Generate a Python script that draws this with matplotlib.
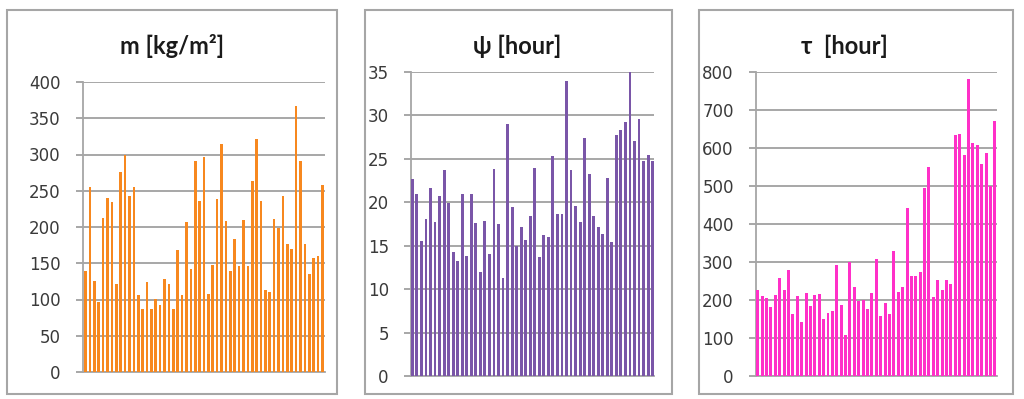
import numpy as np
import matplotlib.pyplot as plt
from matplotlib.patches import Rectangle

# values
m_vals = [140, 255, 125, 96, 213, 240, 234, 121, 276, 299,
          243, 255, 106, 87, 124, 87, 101, 92, 128, 122,
          87, 168, 106, 207, 142, 291, 236, 296, 107, 148,
          238, 315, 208, 140, 184, 146, 210, 146, 264, 322,
          236, 113, 111, 211, 199, 243, 176, 170, 367, 291,
          176, 135, 157, 160, 258]
psi_vals = [22.7, 20.9, 15.5, 18.1, 21.7, 17.7, 20.7, 23.7, 19.9, 14.3,
            13.2, 21.0, 13.8, 20.9, 17.6, 12.0, 17.9, 14.0, 23.8, 17.5,
            11.3, 29.0, 19.5, 15.0, 17.1, 15.7, 18.4, 23.9, 13.7, 16.2,
            16.0, 25.3, 18.6, 18.7, 34.0, 23.7, 19.6, 17.7, 27.4, 23.2,
            18.4, 17.2, 16.4, 22.8, 15.4, 27.7, 28.3, 29.3, 35.0, 27.1,
            29.6, 24.8, 25.4, 24.8]
tau_vals = [227, 210, 205, 182, 213, 259, 227, 279, 164, 210,
            141, 219, 184, 213, 216, 150, 167, 170, 291, 187,
            107, 301, 233, 198, 201, 176, 219, 307, 158, 192,
            164, 330, 221, 233, 443, 264, 262, 273, 495, 550,
            207, 253, 227, 253, 241, 635, 638, 581, 782, 613,
            607, 558, 586, 499, 672]

titles = ['m [kg/m\u00b2]', '\u03c8 [hour]', '\u03c4  [hour]']
m_ticks = list(range(0, 401, 50))
psi_ticks = list(range(0, 36, 5))
tau_ticks = list(range(0, 801, 100))

W, H = 1024, 399
fig = plt.figure(figsize=(W / 100, H / 100), dpi=100)

grey = '#a6a6a6'
text_col = '#3a3a3a'

# pixel boxes: (frame x0, frame x1, axes x0, axes x1, axes top, axes bottom, title x)
panels = [
    (m_vals, m_ticks, '#f7881f', titles[0], (7, 337, 83, 325, 82, 372, 172), (-0.6, 54.6), 0.6),
    (psi_vals, psi_ticks, '#7a56a8', titles[1], (365, 672, 411, 654, 72, 376, 517), (-0.3, 53.3), 0.62),
    (tau_vals, tau_ticks, '#ff30c8', titles[2], (699, 1013, 756, 997, 72, 376, 844), (-0.4, 54.5), 0.68),
]

for vals, ticks, col, title, box, xl, bw in panels:
    fx0, fx1, ax0, ax1, top, bot, tx = box

    # chart frame
    fig.add_artist(Rectangle((fx0 / W, 1 - 394 / H), (fx1 - fx0) / W, 384 / H,
                             transform=fig.transFigure, fill=False,
                             edgecolor=grey, linewidth=1.5))

    ax = fig.add_axes([ax0 / W, 1 - bot / H, (ax1 - ax0) / W, (bot - top) / H])
    x = np.arange(len(vals))
    ax.bar(x, vals, width=bw, color=col, zorder=3)
    ax.set_xlim(*xl)
    ax.set_ylim(ticks[0], ticks[-1])
    ax.set_yticks(ticks)
    ax.set_xticks([])
    ax.grid(axis='y', color='#a0a0a0', linewidth=1.3, zorder=0)
    for s in ['top', 'right']:
        ax.spines[s].set_visible(False)
    for s in ['left', 'bottom']:
        ax.spines[s].set_color(grey)
        ax.spines[s].set_linewidth(1.3)
    ax.tick_params(axis='y', length=5, width=1.3, color='#a0a0a0', pad=11,
                   labelsize=12, labelcolor=text_col)

    fig.text(tx / W, 1 - 46 / H, title, ha='center', va='center',
             fontsize=17, fontweight='bold', family=['Lato', 'DejaVu Sans'],
             color='#1a1a1a')

fig.savefig('out.png', dpi=100)
